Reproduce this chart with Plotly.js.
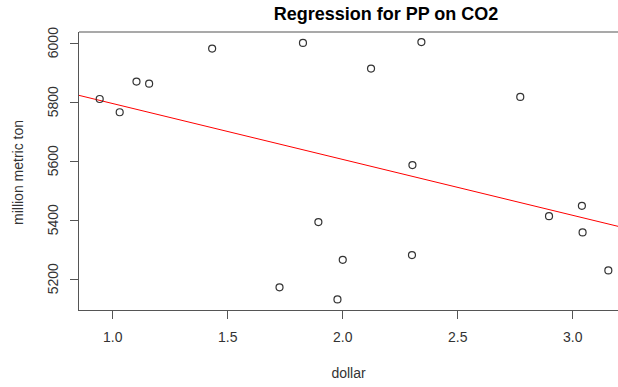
<!DOCTYPE html>
<html>
<head>
<meta charset="utf-8">
<script src="https://cdn.plot.ly/plotly-3.0.1.min.js"></script>
<style>html,body{margin:0;padding:0;background:#fff;}#chart{width:618px;height:387px;}</style>
</head>
<body>
<div id="chart"></div>
<script>
// Values
const dollar = [0.943, 1.030, 1.103, 1.158, 1.432, 1.725, 1.827, 1.894, 1.977, 2.000, 2.123, 2.301, 2.303, 2.342, 2.772, 2.897, 3.040, 3.043, 3.155];
const co2 = [5811, 5766, 5870, 5863, 5982, 5173, 6001, 5394, 5132, 5266, 5914, 5282, 5587, 6004, 5818, 5414, 5449, 5359, 5230];
const xTicks = [1.0, 1.5, 2.0, 2.5, 3.0];
const xTickLabels = ["1.0", "1.5", "2.0", "2.5", "3.0"];
const yTicks = [5200, 5400, 5600, 5800, 6000];
const yTickLabels = ["5200", "5400", "5600", "5800", "6000"];
const xRange = [0.853, 3.197];
const yRange = [5096, 6038];

// Least-squares regression of co2 on dollar
const n = dollar.length;
const mx = dollar.reduce((a, b) => a + b, 0) / n;
const my = co2.reduce((a, b) => a + b, 0) / n;
let sxy = 0, sxx = 0;
for (let i = 0; i < n; i++) { sxy += (dollar[i] - mx) * (co2[i] - my); sxx += (dollar[i] - mx) ** 2; }
const slope = sxy / sxx;
const intercept = my - slope * mx;
const lineX = [xRange[0] - 0.1, xRange[1] + 0.1];
const lineY = lineX.map(x => intercept + slope * x);

const axisColor = '#555';
const font = {family: 'Liberation Sans, Arial, sans-serif', size: 14, color: '#333'};

// Rotated y tick labels (R style, parallel to the axis), placed on the y scale
const yLabelAnnotations = yTicks.map((v, i) => ({
  x: 0, xref: 'paper', y: v, yref: 'y', text: yTickLabels[i], textangle: -90,
  showarrow: false, xanchor: 'center', yanchor: 'middle', xshift: -26, font: font
}));

Plotly.newPlot('chart', [
  {x: lineX, y: lineY, mode: 'lines', line: {color: '#ff0000', width: 1}, hoverinfo: 'skip', cliponaxis: true},
  {x: dollar, y: co2, mode: 'markers', marker: {symbol: 'circle-open', size: 7, color: '#333', line: {width: 1.2, color: '#333'}}}
], {
  width: 618, height: 387,
  margin: {l: 79, r: 0, t: 32, b: 77},
  paper_bgcolor: '#fff', plot_bgcolor: '#fff',
  showlegend: false,
  font: font,
  title: {text: '<b>Regression for PP on CO2</b>', font: {family: 'Liberation Sans, Arial, sans-serif', size: 18, color: '#000'}, x: 352/618, xanchor: 'center', y: 1 - 14/387, yanchor: 'middle', xref: 'paper'},
  xaxis: {
    range: xRange, tickvals: xTicks, ticktext: xTickLabels,
    showgrid: false, zeroline: false,
    showline: true, linecolor: axisColor, linewidth: 1.2, mirror: false,
    ticks: 'outside', ticklen: 8, tickcolor: axisColor, tickwidth: 1,
    tickfont: font, ticklabelstandoff: 6,
    title: {text: 'dollar', font: font, standoff: 24}
  },
  yaxis: {
    range: yRange, tickvals: yTicks, ticktext: yTickLabels,
    showgrid: false, zeroline: false,
    showline: true, linecolor: axisColor, linewidth: 1.2, mirror: false,
    ticks: 'outside', ticklen: 8, tickcolor: axisColor, tickwidth: 1,
    showticklabels: false
  },
  annotations: yLabelAnnotations.concat([
    {x: 0, xref: 'paper', y: 0.5, yref: 'paper', yshift: -2, xshift: -61, text: 'million metric ton', textangle: -90,
     showarrow: false, xanchor: 'center', yanchor: 'middle', font: font}
  ]),
  shapes: [
    {type: 'line', xref: 'paper', yref: 'paper', x0: 0, x1: 1, y0: 1, y1: 1, line: {color: axisColor, width: 1.2}}
  ]
}, {staticPlot: true});
</script>
</body>
</html>
